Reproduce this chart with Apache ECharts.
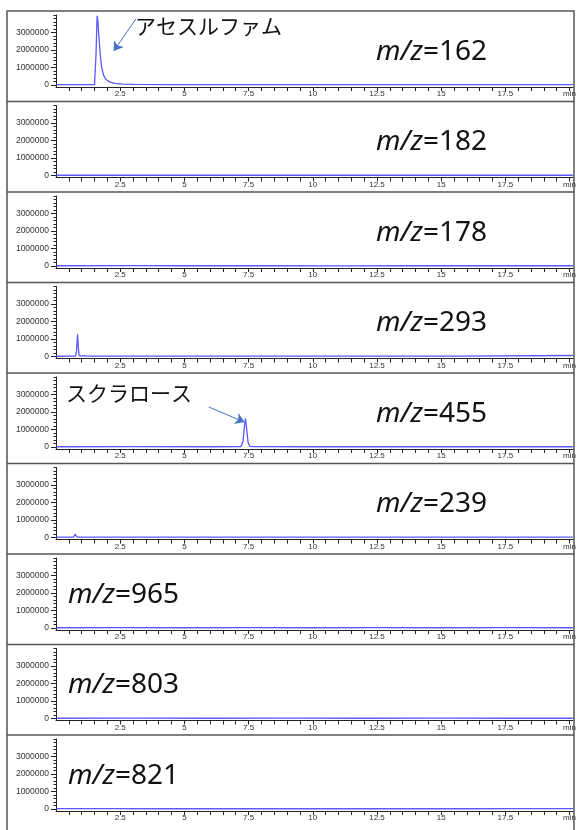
<!DOCTYPE html>
<html><head><meta charset="utf-8">
<script src="https://cdn.jsdelivr.net/npm/echarts@6/dist/echarts.min.js"></script>
<style>html,body{margin:0;padding:0;background:#fff}#c{width:579px;height:830px}</style>
</head><body><div id="c"></div>
<script>
// ---- data ----
const mzLabels = ['162', '182', '178', '293', '455', '239', '965', '803', '821'];
const xTickValues = [0.5,1,1.5,2,2.5,3,3.5,4,4.5,5,5.5,6,6.5,7,7.5,8,8.5,9,9.5,10,10.5,11,11.5,12,12.5,13,13.5,14,14.5,15,15.5,16,16.5,17,17.5,18,18.5,19,19.5,20];
const xLabelValues = [2.5, 5, 7.5, 10, 12.5, 15, 17.5, 20];
const yLabelValues = [0, 1000000, 2000000, 3000000];
const yMinorValues = [200000,400000,600000,800000,1200000,1400000,1600000,1800000,2200000,2400000,2600000,2800000,3200000,3400000,3600000,3800000,4000000];

const trace162 = [[0,15000],[1.5,15000],[1.53,40000],[1.56,1800000],[1.6,3950000],[1.63,3650000],[1.67,2800000],[1.72,1800000],[1.78,1000000],[1.85,560000],[1.95,310000],[2.1,160000],[2.3,85000],[2.6,45000],[3.0,28000],[4.5,16000],[20.13,12000]];
const trace182 = [[0,10000],[2,14000],[4,9000],[6,12000],[9,8000],[12,11000],[15,9000],[18,12000],[20.13,10000]];
const trace178 = [[0,8000],[3,11000],[5,8000],[8,10000],[11,7000],[14,10000],[17,8000],[20.13,9000]];
const trace293 = [[0,10000],[0.76,12000],[0.8,300000],[0.84,1270000],[0.87,500000],[0.9,40000],[1.0,20000],[1.1,45000],[1.2,15000],[5,12000],[10,12000],[15.75,12000],[15.8,50000],[20.13,52000]];
const trace455 = [[0,10000],[3,14000],[6,10000],[7.2,12000],[7.28,300000],[7.34,1200000],[7.38,1620000],[7.42,1100000],[7.48,250000],[7.55,30000],[7.7,12000],[10,10000],[14,12000],[20.13,10000]];
const trace239 = [[0,12000],[0.68,14000],[0.75,170000],[0.82,20000],[1.0,14000],[1.65,15000],[1.7,40000],[1.75,14000],[6,12000],[12,12000],[20.13,12000]];
const trace965 = [[0,10000],[2.5,13000],[5,9000],[7.5,12000],[10,9000],[12.5,11000],[15,9000],[17.5,12000],[20.13,10000]];
const trace803 = [[0,10000],[3,12000],[6,9000],[9,12000],[12,9000],[15,11000],[18,9000],[20.13,10000]];
const trace821 = [[0,12000],[2,18000],[4,9000],[6,16000],[8,10000],[10,17000],[12,9000],[14,15000],[16,10000],[18,16000],[20.13,12000]];
const traces = [trace162, trace182, trace178, trace293, trace455, trace239, trace965, trace803, trace821];

const acesulfameLabel = 'アセスルファム';
const acesulfameArrow = [[3.11, 3770000], [2.25, 1940000]];
const sucraloseLabel = 'スクラロース';
const sucraloseArrow = [[5.95, 2280000], [7.34, 1420000]];

// ---- layout ----
const PANEL_TOP = 11, PANEL_H = 90.5, N = 9;
const chart = echarts.init(document.getElementById('c'));
const grids = [], xAxes = [], yAxes = [], series = [], graphics = [];
const lineColor = 'rgba(60,60,255,0.85)';
const axisColor = '#222';
const tickFont = 'Liberation Sans, Arial, sans-serif';

for (let i = 0; i < N; i++) {
  const T = PANEL_TOP + i * PANEL_H;
  grids.push({left: 56, right: 5, top: T + 4, height: 72});
  xAxes.push({
    type: 'value', gridIndex: i, min: 0, max: 20.13,
    axisLine: {show: true, onZero: false, lineStyle: {color: axisColor, width: 1}},
    axisTick: {show: true, customValues: xTickValues, length: 4, lineStyle: {color: axisColor}},
    axisLabel: {show: true, customValues: xLabelValues, fontSize: 8, color: '#333', margin: 3,
      fontFamily: tickFont,
      formatter: v => v === 20 ? 'min' : String(v)},
    splitLine: {show: false}
  });
  yAxes.push({
    type: 'value', gridIndex: i, position: 'left', min: -120000, max: 4000000,
    axisLine: {show: true, onZero: false, lineStyle: {color: axisColor, width: 1}},
    axisTick: {show: true, customValues: yLabelValues, length: 5, lineStyle: {color: axisColor}},
    axisLabel: {show: true, customValues: yLabelValues, fontSize: 8.5, color: '#333', margin: 7,
      fontFamily: tickFont, formatter: v => String(v)},
    splitLine: {show: false}
  });
  yAxes.push({
    type: 'value', gridIndex: i, position: 'left', offset: 0, min: -120000, max: 4000000,
    axisLine: {show: false, onZero: false},
    axisTick: {show: true, customValues: yMinorValues, length: 2.5, lineStyle: {color: axisColor}},
    axisLabel: {show: false},
    splitLine: {show: false}
  });
  const s = {
    type: 'line', xAxisIndex: i, yAxisIndex: 2 * i, data: traces[i],
    showSymbol: false, symbol: 'none', silent: true,
    lineStyle: {color: lineColor, width: 1.3}
  };
  series.push(s);

  if (i > 0) {
    graphics.push({type: 'line', shape: {x1: 7, y1: T, x2: 574, y2: T},
      style: {stroke: '#555', lineWidth: 1.5}, silent: true});
  }
  const lx = i < 6 ? 376 : 68;
  graphics.push({
    type: 'text', x: lx, y: T + 41, silent: true,
    style: {
      text: '{i|m/z}{n|=' + mzLabels[i] + '}',
      verticalAlign: 'middle', fill: '#111',
      rich: {
        i: {fontStyle: 'italic', fontSize: 28, fontFamily: 'Noto Sans', fill: '#111'},
        n: {fontSize: 28, fontFamily: 'Noto Sans', fill: '#111'}
      }
    }
  });
}

function arrowMark(pts) {
  return {
    silent: true, symbol: ['none', 'arrow'], symbolSize: 9, animation: false,
    label: {show: false},
    lineStyle: {color: '#4472c4', width: 1, type: 'solid'},
    data: [[{coord: pts[0]}, {coord: pts[1]}]]
  };
}
series[0].markLine = arrowMark(acesulfameArrow);
series[4].markLine = arrowMark(sucraloseArrow);

graphics.push({type: 'rect', shape: {x: 7, y: 11, width: 567, height: 840},
  style: {fill: 'none', stroke: '#555', lineWidth: 1.5}, silent: true});
graphics.push({type: 'text', x: 135, y: 26, silent: true,
  style: {text: acesulfameLabel, font: '21px "Noto Sans CJK JP"', fill: '#111', verticalAlign: 'middle'}});
graphics.push({type: 'text', x: 66, y: PANEL_TOP + 4 * PANEL_H + 20, silent: true,
  style: {text: sucraloseLabel, font: '21px "Noto Sans CJK JP"', fill: '#111', verticalAlign: 'middle'}});

chart.setOption({
  animation: false,
  backgroundColor: '#fff',
  grid: grids, xAxis: xAxes, yAxis: yAxes, series: series,
  graphic: graphics
});
</script></body></html>
